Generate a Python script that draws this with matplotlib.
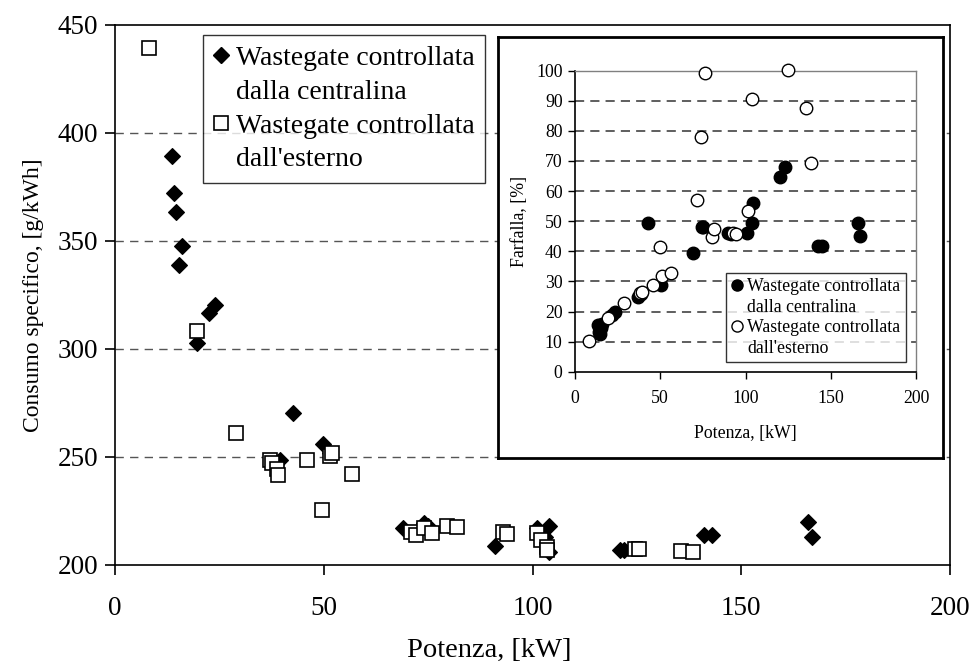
import matplotlib
matplotlib.use("Agg")
import matplotlib.pyplot as plt
from matplotlib.lines import Line2D

plt.rcParams['font.family'] = ['Liberation Serif', 'DejaVu Serif']

# ---- main chart data: specific consumption vs power ----
ecu_power = [13.6, 14.2, 14.5, 15.3, 16.0, 19.6, 22.4, 24.0, 39.5, 42.7, 49.9, 51.5,
             69.0, 74.0, 75.0, 91.0, 101.0, 103.0, 104.0, 104.0, 121.0, 122.0,
             141.0, 143.0, 166.0, 167.0]
ecu_bsfc = [389.4, 372.0, 363.6, 338.9, 347.8, 302.6, 316.5, 320.4, 248.6, 270.5, 256.0, 252.0,
            217.0, 219.5, 218.0, 209.0, 217.0, 213.0, 218.0, 206.0, 207.0, 207.0,
            214.0, 214.0, 220.0, 213.0]
ext_power = [8.1, 19.6, 29.1, 37.1, 37.5, 38.7, 39.0, 45.9, 49.6, 51.5, 52.0, 56.7,
             71.0, 72.0, 74.0, 76.0, 79.5, 82.0, 93.0, 94.0, 101.0, 102.0, 103.5, 103.5,
             124.5, 125.5, 135.5, 138.5]
ext_bsfc = [439.4, 308.5, 261.2, 248.6, 247.0, 244.5, 241.5, 248.6, 225.5, 250.5, 252.0, 242.0,
            215.5, 214.0, 217.0, 215.0, 218.0, 217.5, 215.5, 214.5, 215.0, 211.5, 208.5, 207.0,
            207.5, 207.5, 206.5, 206.0]

# ---- inset data: throttle opening vs power ----
ecu_power_in = [13.7, 14.2, 14.7, 15.5, 16.0, 21.5, 23.5, 37.1, 38.5, 43.0, 50.2, 69.0,
                74.3, 74.9, 89.9, 91.5, 101.1, 103.6, 104.6, 120.2, 123.2, 142.7, 144.7,
                166.2, 167.2]
ecu_thr = [15.5, 13.3, 12.5, 14.5, 16.0, 18.8, 19.9, 24.9, 25.8, 49.3, 28.8, 39.5,
           48.0, 48.2, 46.2, 45.8, 46.2, 49.3, 55.9, 64.6, 67.9, 41.8, 41.8,
           49.5, 45.2]
ext_power_in = [8.0, 19.5, 28.7, 38.1, 39.5, 45.6, 49.9, 51.2, 56.5, 71.4, 73.9, 76.2,
                80.2, 81.7, 92.9, 94.4, 101.6, 103.6, 124.7, 135.5, 138.4]
ext_thr = [10.3, 17.7, 22.7, 26.2, 26.5, 28.8, 41.5, 31.8, 32.9, 57.0, 77.9, 99.1,
           44.7, 47.3, 46.2, 45.7, 53.5, 90.5, 100.2, 87.7, 69.4]

lab1a, lab1b = "Wastegate controllata", "dalla centralina"
lab2a, lab2b = "Wastegate controllata", "dall'esterno"

W, H = 974, 671
fig = plt.figure(figsize=(W / 100, H / 100), dpi=100)

def fbox(l, t, r, b):
    return [l / W, 1 - b / H, (r - l) / W, (b - t) / H]

TICK_FS = 19.5
LEG_FS = 20
IN_FS = 12.8

# ---------------- main axes ----------------
ax = fig.add_axes(fbox(115, 25, 950, 565))
ax.set_xlim(0, 200)
ax.set_ylim(200, 450)
ax.set_xticks([0, 50, 100, 150, 200])
ax.set_yticks([200, 250, 300, 350, 400, 450])
for v in [250, 300, 350, 400]:
    ax.axhline(v, color='#555555', lw=1.0, dashes=(6, 4.5), zorder=1)
ax.plot(ecu_power, ecu_bsfc, ls='none', marker='D', ms=8.3, mfc='black', mec='black',
        mew=0.8, zorder=3, clip_on=False)
ax.plot(ext_power, ext_bsfc, ls='none', marker='s', ms=10.5, mfc='white', mec='black',
        mew=1.2, zorder=4, clip_on=False)
for s in ax.spines.values():
    s.set_linewidth(1.2)
ax.tick_params(direction='out', length=7, width=1.2, labelsize=TICK_FS, pad=5)
ax.tick_params(axis='x', pad=15)
ax.set_ylabel("Consumo specifico, [g/kWh]", fontsize=17, labelpad=10)
fig.text(489 / W, 1 - 650 / H, "Potenza, [kW]", fontsize=20.5, ha='center', va='center')

blank = Line2D([], [], ls='none', marker=None)
h1 = Line2D([], [], ls='none', marker='D', ms=8.3, mfc='black', mec='black')
h2 = Line2D([], [], ls='none', marker='s', ms=10.5, mfc='white', mec='black', mew=1.2)
leg = ax.legend([h1, blank, h2, blank], [lab1a, lab1b, lab2a, lab2b],
                loc='upper left', bbox_to_anchor=(203 / W, 1 - 35 / H),
                bbox_transform=fig.transFigure, borderaxespad=0,
                fontsize=LEG_FS, frameon=True, fancybox=False, edgecolor='black',
                handlelength=0.5, handletextpad=0.3, labelspacing=0.3,
                borderpad=0.38)
leg.get_frame().set_linewidth(1.0)

# ---------------- inset frame ----------------
fr = fig.add_axes(fbox(498, 37, 943, 458))
fr.set_xticks([])
fr.set_yticks([])
fr.set_facecolor('white')
for s in fr.spines.values():
    s.set_linewidth(2.0)

# ---------------- inset axes ----------------
ax2 = fig.add_axes(fbox(575, 70.7, 916, 371.7))
ax2.set_xlim(0, 200)
ax2.set_ylim(0, 100)
ax2.set_xticks([0, 50, 100, 150, 200])
ax2.set_yticks(list(range(0, 101, 10)))
for v in range(10, 100, 10):
    ax2.axhline(v, color='#333333', lw=1.1, dashes=(6, 4), zorder=1)
ax2.plot(ecu_power_in, ecu_thr, ls='none', marker='o', ms=9, mfc='black', mec='black',
         mew=1.0, zorder=3, clip_on=False)
ax2.plot(ext_power_in, ext_thr, ls='none', marker='o', ms=9, mfc='white', mec='black',
         mew=1.0, zorder=4, clip_on=False)
ax2.spines['left'].set_linewidth(1.2)
ax2.spines['bottom'].set_linewidth(1.2)
ax2.spines['top'].set_color('#808080')
ax2.spines['right'].set_color('#808080')
ax2.spines['top'].set_linewidth(1.0)
ax2.spines['right'].set_linewidth(1.0)
ax2.tick_params(direction='out', length=5, width=1.0, labelsize=IN_FS, pad=4)
ax2.tick_params(axis='x', pad=8)
ax2.set_xlabel("Potenza, [kW]", fontsize=IN_FS, labelpad=13)
ax2.set_ylabel("Farfalla, [%]", fontsize=IN_FS, labelpad=6)

c1 = Line2D([], [], ls='none', marker='o', ms=8, mfc='black', mec='black')
c2 = Line2D([], [], ls='none', marker='o', ms=8, mfc='white', mec='black')
leg2 = ax2.legend([c1, blank, c2, blank], [lab1a, lab1b, lab2a, lab2b],
                  loc='upper left', bbox_to_anchor=(726 / W, 1 - 272.7 / H),
                  bbox_transform=fig.transFigure, borderaxespad=0,
                  fontsize=IN_FS, frameon=True, fancybox=False, edgecolor='black',
                  handlelength=0.6, handletextpad=0.3, labelspacing=0.2,
                  borderpad=0.3)
leg2.get_frame().set_linewidth(1.0)

fig.savefig("out.png", dpi=100)
